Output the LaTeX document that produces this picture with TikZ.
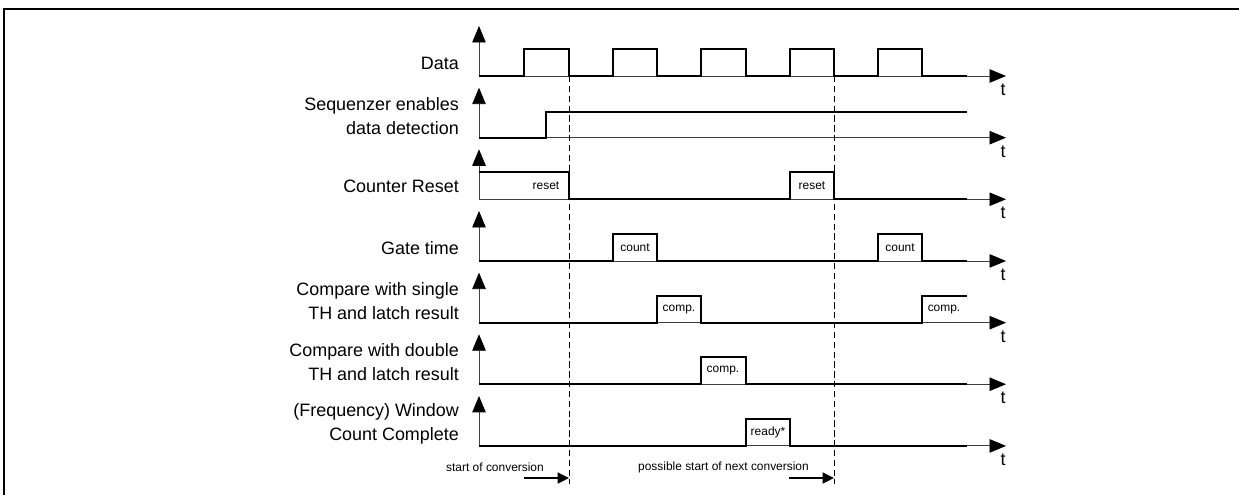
\documentclass[tikz,border=0pt]{standalone}
\usepackage{fontspec}
\setmainfont{Liberation Sans}
\usetikzlibrary{arrows.meta}

\begin{document}
\begin{tikzpicture}[x=0.02cm, y=-0.02cm,
		axis/.style={line width=0.5pt, black!75, -{Triangle[length=0.33cm, width=0.27cm, black]}},
		sig/.style={line width=1.1pt},
		lbl/.style={anchor=east, align=right, font=\fontsize{10.2}{13.6}\selectfont},
		tlbl/.style={font=\fontsize{10.2}{12}\selectfont},
		pulse/.style={font=\fontsize{6.8}{8}\selectfont},
		guide/.style={line width=0.5pt, dash pattern=on 3.6pt off 2pt},
		convarrow/.style={line width=1.1pt, -{Triangle[length=0.23cm, width=0.22cm]}}]
	\useasboundingbox (0,0) rectangle (1239,495);
	\draw[line width=0.8pt] (4,495) -- (4,9) -- (1239,9);

	% Data
	\begin{scope}[yshift=-1.52cm]
		\node[lbl] (data) at (465,-13) {Data};
		\coordinate (o1) at (479,0);
		\draw[axis] (o1) -- ++(0,-50);
		\draw[axis] (o1) -- ++(527,0);
		\draw[sig] (o1) -- (524,0) -- (524,-27) -- (569,-27) -- (569,0) -- (613,0) -- (613,-27) -- (657,-27) -- (657,0)
			-- (701,0) -- (701,-27) -- (746,-27) -- (746,0) -- (790,0) -- (790,-27) -- (834,-27) -- (834,0)
			-- (878,0) -- (878,-27) -- (922,-27) -- (922,0) -- (967,0);
		\node[tlbl] (t1) at (1003,14) {t};
	\end{scope}

	% Sequenzer
	\begin{scope}[yshift=-2.754cm]
		\node[lbl] (seq) at (465,-22) {Sequenzer enables\\data detection};
		\coordinate (o2) at (479,0);
		\draw[axis] (o2) -- ++(0,-50);
		\draw[axis] (o2) -- ++(527,0);
		\draw[sig] (o2) -- (546,0) -- (546,-26) -- (967,-26);
		\node[tlbl] (t2) at (1003,14) {t};
	\end{scope}

	% Counter Reset
	\begin{scope}[yshift=-3.986cm]
		\node[lbl] (reset) at (465,-13) {Counter Reset};
		\coordinate (o3) at (479,0);
		\draw[axis] (o3) -- ++(0,-50);
		\draw[axis] (o3) -- ++(527,0);
		\draw[sig] (479,-27) -- (569,-27) -- (569,0) -- (790,0) -- (790,-27) -- (834,-27) -- (834,0) -- (967,0);
		\node[pulse] (rst1) at (546,-13.5) {reset};
		\node[pulse] (rst2) at (812,-13.5) {reset};
		\node[tlbl] (t3) at (1003,14) {t};
	\end{scope}

	% Gate time
	\begin{scope}[yshift=-5.22cm]
		\node[lbl] (gate) at (465,-13) {Gate time};
		\coordinate (o4) at (479,0);
		\draw[axis] (o4) -- ++(0,-50);
		\draw[axis] (o4) -- ++(527,0);
		\draw[sig] (o4) -- (613,0) -- (613,-27) -- (657,-27) -- (657,0) -- (878,0) -- (878,-27) -- (922,-27) -- (922,0) -- (967,0);
		\node[pulse] (cnt1) at (635,-13.5) {count};
		\node[pulse] (cnt2) at (900,-13.5) {count};
		\node[tlbl] (t4) at (1003,14) {t};
	\end{scope}

	% Compare single TH
	\begin{scope}[yshift=-6.454cm]
		\node[lbl] (single) at (465,-22) {Compare with single\\TH and latch result};
		\coordinate (o5) at (479,0);
		\draw[axis] (o5) -- ++(0,-50);
		\draw[axis] (o5) -- ++(527,0);
		\draw[sig] (o5) -- (657,0) -- (657,-27) -- (701,-27) -- (701,0) -- (922,0) -- (922,-27) -- (967,-27);
		\node[pulse] (cmp1) at (679,-13.5) {comp.};
		\node[pulse] (cmp2) at (944,-13.5) {comp.};
		\node[tlbl] (t5) at (1003,14) {t};
	\end{scope}

	% Compare double TH
	\begin{scope}[yshift=-7.686cm]
		\node[lbl] (double) at (465,-22) {Compare with double\\TH and latch result};
		\coordinate (o6) at (479,0);
		\draw[axis] (o6) -- ++(0,-50);
		\draw[axis] (o6) -- ++(527,0);
		\draw[sig] (o6) -- (701,0) -- (701,-27) -- (746,-27) -- (746,0) -- (967,0);
		\node[pulse] (cmp3) at (723,-13.5) {comp.};
		\node[tlbl] (t6) at (1003,14) {t};
	\end{scope}

	% Window count complete
	\begin{scope}[yshift=-8.92cm]
		\node[lbl] (window) at (465,-22) {(Frequency) Window\\Count Complete};
		\coordinate (o7) at (479,0);
		\draw[axis] (o7) -- ++(0,-50);
		\draw[axis] (o7) -- ++(527,0);
		\draw[sig] (o7) -- (746,0) -- (746,-27) -- (790,-27) -- (790,0) -- (967,0);
		\node[pulse] (ready) at (768,-13.5) {ready*};
		\node[tlbl] (t7) at (1003,14) {t};
	\end{scope}

	% conversion markers
	\coordinate (g1top) at (569,76);
	\coordinate (g1bot) at (569,484);
	\coordinate (g2top) at (834,76);
	\coordinate (g2bot) at (834,484);
	\draw[guide] (g1top) -- (g1bot);
	\draw[guide] (g2top) -- (g2bot);

	\node[pulse, anchor=east] (start) at (550,467) {start of conversion};
	\node[pulse, anchor=east] (next) at (815,467) {possible start of next conversion};
	\coordinate (a1) at (524,478);
	\coordinate (b1) at (569,478);
	\coordinate (a2) at (789,478);
	\coordinate (b2) at (834,478);
	\draw[convarrow] (a1) -- (b1);
	\draw[convarrow] (a2) -- (b2);
\end{tikzpicture}
\end{document}
